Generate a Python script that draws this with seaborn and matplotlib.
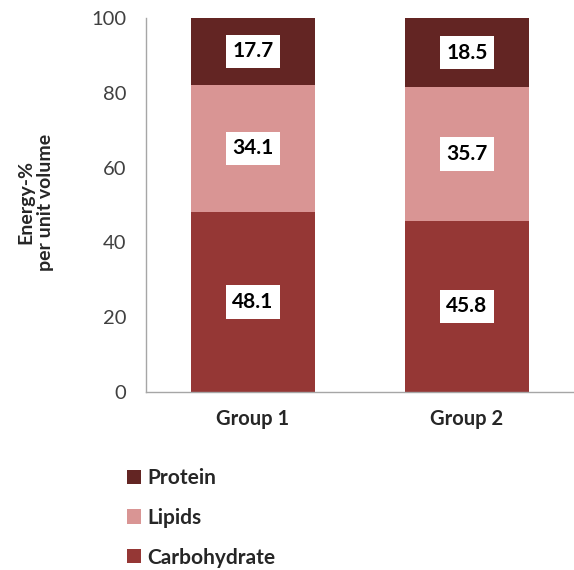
import matplotlib
matplotlib.use("Agg")
import matplotlib.pyplot as plt
import seaborn as sns
import pandas as pd
import numpy as np
from matplotlib.patches import Patch

groups = ["Group 1", "Group 2"]
carbohydrate = [48.1, 45.8]
lipids = [34.1, 35.7]
protein = [17.7, 18.5]
y_ticks = [0, 20, 40, 60, 80, 100]

sns.set_theme(style="white")
plt.rcParams["font.family"] = ["Lato", "DejaVu Sans"]

colors = {"Carbohydrate": "#953735", "Lipids": "#D99594", "Protein": "#632523"}

fig = plt.figure(figsize=(5.74, 5.70), dpi=100)
ax = fig.add_axes([146 / 574, 1 - 392 / 570, 428 / 574, (392 - 18) / 570])

df = pd.DataFrame({"group": groups, "Carbohydrate": carbohydrate,
                   "Lipids": lipids, "Protein": protein})

bottom = np.zeros(len(groups))
for comp in ["Carbohydrate", "Lipids", "Protein"]:
    vals = df[comp].to_numpy()
    sns.barplot(data=df, x="group", y=comp, ax=ax, color=colors[comp],
                width=0.575, bottom=bottom, saturation=1, errorbar=None,
                linewidth=0, edgecolor="none")
    for i, v in enumerate(vals):
        ax.text(i, bottom[i] + v / 2, f"{v:.1f}", ha="center", va="center",
                fontsize=15, fontweight="bold", color="black",
                bbox=dict(boxstyle="square,pad=0.32", fc="white", ec="none"))
    bottom = bottom + vals

ax.set_ylim(0, 100)
ax.set_xlim(-0.5, 1.5)
ax.set_yticks(y_ticks)
ax.set_yticklabels([str(t) for t in y_ticks], fontsize=14.5, color="#404040")
ax.set_xticks(range(len(groups)))
ax.set_xticklabels(groups, fontsize=14.5, fontweight="bold", color="#262626")
ax.set_xlabel("")
ax.set_ylabel("")
ax.tick_params(axis="y", length=0, pad=14)
ax.tick_params(axis="x", length=0, pad=12)
for s in ["top", "right"]:
    ax.spines[s].set_visible(False)
for s in ["left", "bottom"]:
    ax.spines[s].set_color("#A6A6A6")
    ax.spines[s].set_linewidth(1.0)

fig.text(36 / 574, 1 - 202 / 570, "Energy-%\nper unit volume", rotation=90,
         ha="center", va="center", fontsize=14, fontweight="bold",
         color="#262626", linespacing=1.2)

handles = [Patch(facecolor=colors[c], edgecolor="none") for c in
           ["Protein", "Lipids", "Carbohydrate"]]
leg = fig.legend(handles, ["Protein", "Lipids", "Carbohydrate"],
                 loc="upper left", bbox_to_anchor=(127 / 574, 1 - 468 / 570),
                 frameon=False, fontsize=15, handlelength=0.67,
                 handleheight=0.67, handletextpad=0.3, labelspacing=0.95,
                 borderaxespad=0, borderpad=0)
for t in leg.get_texts():
    t.set_fontweight("bold")
    t.set_color("#262626")

fig.savefig("out.png", dpi=100)
